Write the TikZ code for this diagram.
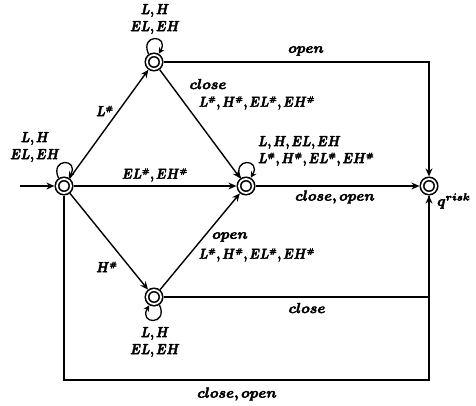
\documentclass[tikz,border=0pt]{standalone}
\usepackage{graphicx}
\usepackage{amsmath,bm}
\usetikzlibrary{arrows.meta}
\newcommand{\tx}[1]{\special{pdf:literal direct q 2 Tr 0.3 w}\scalebox{1.45}{$\bm{#1}$}\special{pdf:literal direct Q}}
\newcommand{\tc}[1]{\special{pdf:literal direct q 2 Tr 0.3 w}\scalebox{1.22}[1.45]{$\bm{#1}$}\special{pdf:literal direct Q}}
\newcommand{\hs}{^{\scriptscriptstyle\bm{\#}}}
\begin{document}
\begin{tikzpicture}[x=1pt,y=-1pt,
  st/.style={circle,draw,line width=1.6pt,double,double distance=1.8pt,minimum size=14pt,inner sep=0pt,outer sep=2.6pt},
  tr/.style={line width=1.4pt,-{Stealth[length=8pt,width=7pt]}},
  ln/.style={line width=1.4pt},
  lp/.style={line width=1.3pt,-{Stealth[length=6pt,width=6pt]}},
  lb/.style={font=\fontsize{10}{17}\selectfont,inner sep=0pt,align=center}]
\useasboundingbox (0,0) rectangle (476,406);
\node[st] (q0) at (64,186) {};
\node[st] (q1) at (154,62) {};
\node[st] (q2) at (246,186) {};
\node[st] (q3) at (154,297) {};
\node[st] (qr) at (429,186) {};
\coordinate (s) at (20,186);
\coordinate (c1) at (64,380);
\coordinate (c2) at (429,380);
% connectors
\draw[tr] (s) -- (q0);
\draw[tr] (q0) -- (q1);
\draw[tr] (q0) -- (q2);
\draw[tr] (q0) -- (q3);
\draw[tr] (q1) -- (q2);
\draw[tr] (q3) -- (q2);
\draw[tr] (q2) -- (qr);
\draw[tr] (q1) -| (qr);
\draw[tr] (q3) -| (qr);
\draw[ln] (q0) -- (c1) -- (c2) -- (qr.south);
% loops
\draw[lp] (q0.125) .. controls +(-9,-21) and +(11,-19) .. (q0.60);
\draw[lp] (q1.125) .. controls +(-9,-21) and +(11,-19) .. (q1.60);
\draw[lp] (q2.125) .. controls +(-9,-21) and +(11,-19) .. (q2.60);
\draw[lp] (q3.-55) .. controls +(9,21) and +(-11,19) .. (q3.-120);
% labels
\node[lb] (l0) at (35,147) {\tc{L, H}\\\tc{EL, EH}};
\node[lb] (l1) at (155,19) {\tc{L, H}\\\tc{EL, EH}};
\node[lb] (l3) at (155,342) {\tc{L, H}\\\tc{EL, EH}};
\node[lb,align=left,anchor=west] (l2) at (258,151) {\tc{L, H, EL, EH}\\\tc{L\hs, H\hs, EL\hs, EH\hs}};
\node[lb] (a1) at (105,111) {\tc{L\hs}};
\node[lb] (a2) at (155,175) {\tc{EL\hs, EH\hs}};
\node[lb] (a3) at (107,267) {\tc{H\hs}};
\node[lb] (b1) at (208,84) {\tx{close}};
\node[lb] (b2) at (257,103) {\tc{L\hs, H\hs, EL\hs, EH\hs}};
\node[lb] (d1) at (230,237) {\tx{open}};
\node[lb] (d2) at (257,255) {\tc{L\hs, H\hs, EL\hs, EH\hs}};
\node[lb] (e1) at (306,51) {\tx{open}};
\node[lb] (e2) at (335,197) {\tx{close, open}};
\node[lb] (e3) at (307,308) {\tx{close}};
\node[lb] (e4) at (237,394) {\tx{close, open}};
\node[lb,anchor=west] (qn) at (437,201) {\tx{q^{risk}}};
\end{tikzpicture}
\end{document}
